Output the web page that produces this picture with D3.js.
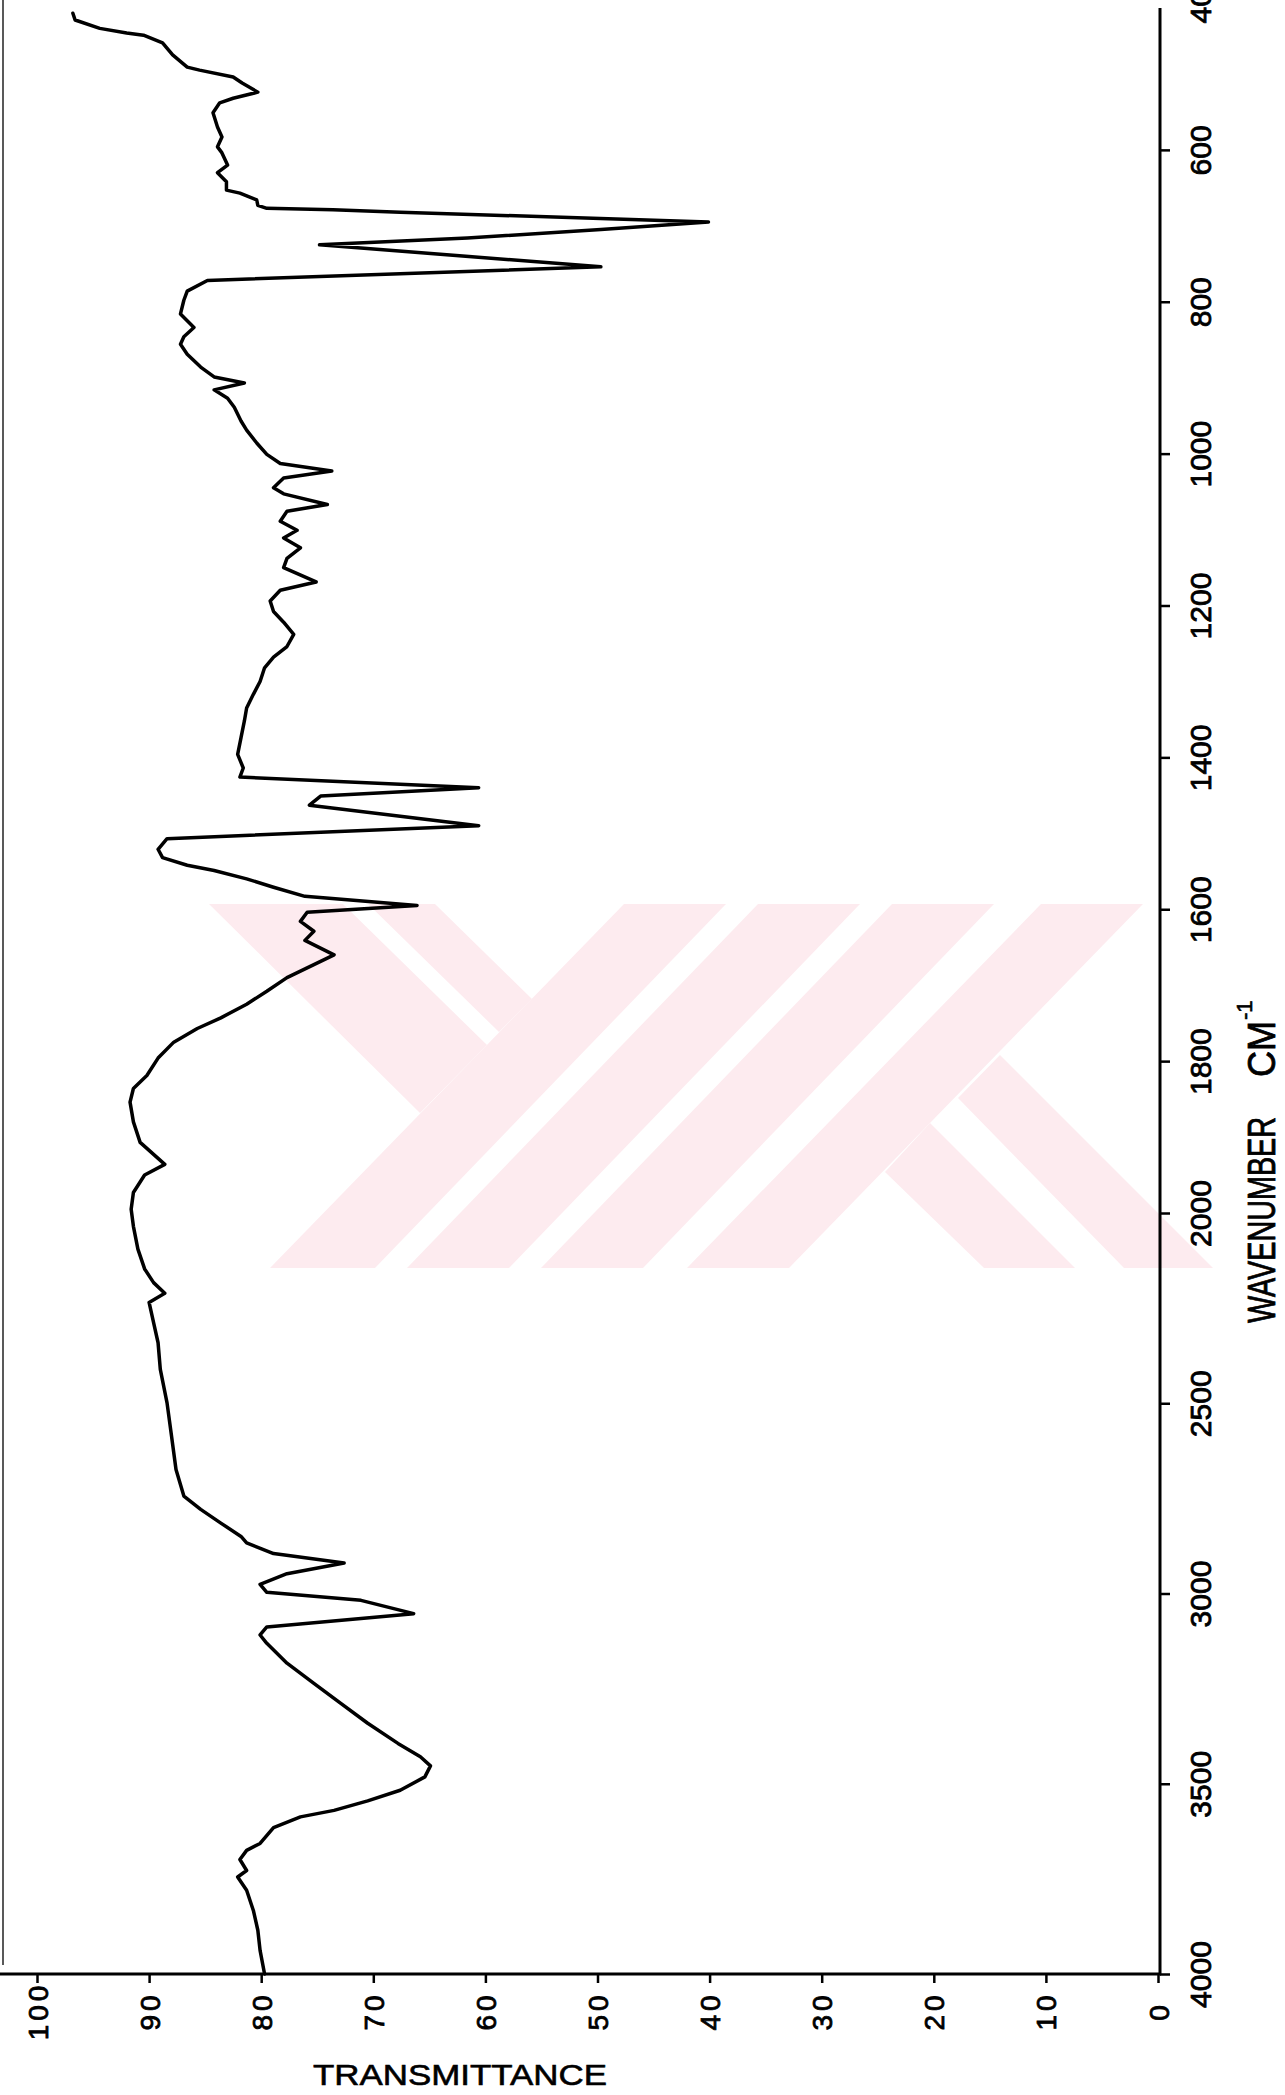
<!DOCTYPE html>
<html>
<head>
<meta charset="utf-8">
<script src="https://cdn.jsdelivr.net/npm/d3@7"></script>
<style>
body { margin: 0; background: #fff; }
svg { display: block; font-family: "Liberation Sans", Arial, sans-serif; }
</style>
</head>
<body>
<svg width="1285" height="2095"></svg>
<script>
var wavenumber = [
  420, 429, 440, 446, 449, 459, 475, 491, 495, 504, 512, 524, 532, 538, 551, 570,
  583, 596, 604, 620, 630, 642, 653, 657, 666, 673, 677, 679, 682, 695, 705, 716,
  725, 754, 772, 786, 798, 816, 825, 834, 846, 856, 869, 886, 899, 907, 916, 927,
  939, 957, 969, 986, 1001, 1013, 1023, 1032, 1045, 1053, 1067, 1076, 1089, 1101,
  1111, 1124, 1138, 1150, 1169, 1180, 1194, 1208, 1222, 1238, 1254, 1268, 1282,
  1300, 1317, 1335, 1352, 1374, 1396, 1414, 1426, 1440, 1451, 1463, 1490, 1507,
  1521, 1532, 1542, 1549, 1560, 1571, 1583, 1595, 1604, 1616, 1629, 1641, 1660,
  1673, 1690, 1708, 1725, 1743, 1757, 1775, 1796, 1819, 1836, 1854, 1880, 1907,
  1936, 1950, 1973, 1995, 2035, 2095, 2147, 2183, 2211, 2235, 2288, 2341, 2411,
  2499, 2586, 2674, 2744, 2779, 2815, 2850, 2867, 2895, 2920, 2948, 2976, 2997,
  3018, 3053, 3088, 3109, 3131, 3183, 3236, 3289, 3341, 3394, 3429, 3453, 3482,
  3517, 3545, 3570, 3587, 3615, 3657, 3675, 3699, 3728, 3745, 3780, 3833, 3885,
  3938, 4000
];
var transmittance = [
  96.8, 96.6, 94.4, 92.0, 90.5, 88.8, 87.9, 86.6, 85.5, 82.5, 81.7, 80.3, 82.5, 83.7, 84.3, 83.9,
  83.5, 83.9, 83.5, 83.0, 83.9, 83.1, 83.1, 81.9, 80.4, 80.3, 79.5, 73.6, 67.6, 40.1, 49.7, 61.6,
  74.8, 49.7, 84.8, 86.6, 86.9, 87.2, 86.6, 86.0, 86.9, 87.2, 86.6, 85.4, 84.2, 81.5, 84.2, 83.0,
  82.4, 81.8, 81.3, 80.4, 79.5, 78.3, 73.7, 78.0, 78.9, 78.0, 74.1, 77.7, 78.3, 76.8,
  78.0, 76.5, 77.7, 78.0, 75.1, 78.3, 79.2, 78.9, 78.0, 77.1, 77.7, 78.9, 79.7,
  80.1, 80.7, 81.3, 81.5, 81.8, 82.1, 81.6, 81.9, 60.6, 74.7, 75.7, 60.6, 88.4,
  89.2, 88.8, 86.6, 84.2, 81.3, 78.9, 76.1, 66.1, 75.9, 76.5, 75.3, 76.1, 73.5,
  75.3, 77.7, 79.5, 81.3, 83.6, 85.7, 87.8, 89.2, 90.2, 91.4, 91.7, 91.4, 90.8,
  88.6, 90.4, 91.4, 91.6, 91.4, 91.0, 90.4, 89.6, 88.6, 90.0, 89.6, 89.2, 89.0,
  88.4, 88.0, 87.6, 86.9, 85.4, 83.6, 81.8, 81.3, 78.9, 72.6, 77.7, 80.1, 79.5,
  71.1, 66.4, 79.5, 80.1, 79.5, 77.7, 75.3, 72.9, 70.5, 67.8, 65.8, 64.9, 65.4,
  67.6, 70.5, 73.5, 76.5, 78.9, 80.1, 81.3, 81.9, 81.3, 82.1, 81.3, 80.7, 80.3,
  80.1, 79.7
];
var tTicks = [100, 90, 80, 70, 60, 50, 40, 30, 20, 10, 0];
var wnTicks = [400, 600, 800, 1000, 1200, 1400, 1600, 1800, 2000, 2500, 3000, 3500, 4000];

var svg = d3.select("svg");

// chart is printed turned on its side: transmittance runs left->right (100 -> 0),
// wavenumber runs top->bottom with a scale change at 2000
var x = d3.scaleLinear().domain([100, 0]).range([37, 1158]);
var y = d3.scaleLinear().domain([400, 2000, 4000]).range([-2, 1213, 1974]);

// faint pink watermark behind the plot
var pink = "#fdebef";
var marks = [
  [[624,904],[726,904],[375,1268],[270,1268]],
  [[758,904],[860,904],[509,1268],[407,1268]],
  [[892,904],[994,904],[643,1268],[541,1268]],
  [[1041,904],[1143,904],[789,1268],[687,1268]],
  [[209,904],[343,904],[487,1045],[420,1113]],
  [[368,904],[435,904],[532,999],[499,1032]],
  [[930,1123],[1075,1268],[984,1268],[885,1172]],
  [[1000,1055],[1213,1268],[1124,1268],[958,1098]]
];
svg.append("g").selectAll("polygon")
  .data(marks)
  .enter().append("polygon")
  .attr("points", function(d) { return d.join(" "); })
  .attr("fill", pink);

// left paper edge
svg.append("line")
  .attr("x1", 3).attr("x2", 3).attr("y1", 0).attr("y2", 1965)
  .attr("stroke", "#222").attr("stroke-width", 1.5);

// transmittance axis (bottom)
var gx = svg.append("g")
  .attr("transform", "translate(0,1974)")
  .call(d3.axisBottom(x).tickValues(tTicks).tickFormat(d3.format("d")).tickSize(9).tickSizeOuter(0));
gx.select(".domain").remove();
gx.append("line").attr("x1", 0).attr("x2", 1161).attr("stroke", "#000").attr("stroke-width", 3);
gx.selectAll(".tick line").attr("stroke", "#000").attr("stroke-width", 2.5);
gx.selectAll(".tick text")
  .attr("x", 0).attr("y", 0).attr("dy", "0.36em")
  .attr("text-anchor", "middle")
  .attr("transform", "translate(0,37) rotate(-90)")
  .attr("fill", "#000")
  .attr("stroke", "#000").attr("stroke-width", 0.8)
  .style("font-size", "28px")
  .style("letter-spacing", "4px");

// wavenumber axis (right)
var gy = svg.append("g")
  .attr("transform", "translate(1160,0)")
  .call(d3.axisRight(y).tickValues(wnTicks).tickFormat(d3.format("d")).tickSize(10).tickSizeOuter(0));
gy.select(".domain").remove();
gy.append("line").attr("y1", 8).attr("y2", 1975).attr("stroke", "#000").attr("stroke-width", 3);
gy.selectAll(".tick line").attr("stroke", "#000").attr("stroke-width", 2.5);
gy.selectAll(".tick text")
  .attr("x", 0).attr("y", 0).attr("dy", "0.36em")
  .attr("text-anchor", "middle")
  .attr("transform", "translate(40,0) rotate(-90)")
  .attr("fill", "#000")
  .attr("stroke", "#000").attr("stroke-width", 0.8)
  .style("font-size", "30px");

// axis titles
svg.append("text")
  .attr("x", 460).attr("y", 2085)
  .attr("text-anchor", "middle")
  .attr("textLength", 294).attr("lengthAdjust", "spacingAndGlyphs")
  .attr("stroke", "#000").attr("stroke-width", 0.6)
  .style("font-size", "30px")
  .text("TRANSMITTANCE");

svg.append("text")
  .attr("transform", "translate(1275,1323) rotate(-90)")
  .attr("textLength", 206).attr("lengthAdjust", "spacingAndGlyphs")
  .attr("stroke", "#000").attr("stroke-width", 0.8)
  .style("font-size", "38px")
  .text("WAVENUMBER");
svg.append("text")
  .attr("transform", "translate(1275,1077) rotate(-90)")
  .attr("textLength", 56).attr("lengthAdjust", "spacingAndGlyphs")
  .attr("stroke", "#000").attr("stroke-width", 0.8)
  .style("font-size", "38px")
  .text("CM");
svg.append("text")
  .attr("transform", "translate(1252,1020) rotate(-90)")
  .attr("stroke", "#000").attr("stroke-width", 0.6)
  .style("font-size", "22px")
  .text("-1");

// the spectrum trace
var spectrum = wavenumber.map(function(w, i) { return {wn: w, t: transmittance[i]}; });
var line = d3.line()
  .x(function(d) { return x(d.t); })
  .y(function(d) { return y(d.wn); });

svg.append("path")
  .datum(spectrum)
  .attr("fill", "none")
  .attr("stroke", "#000")
  .attr("stroke-width", 3.5)
  .attr("stroke-linejoin", "round")
  .attr("stroke-linecap", "round")
  .attr("d", line);
</script>
</body>
</html>
